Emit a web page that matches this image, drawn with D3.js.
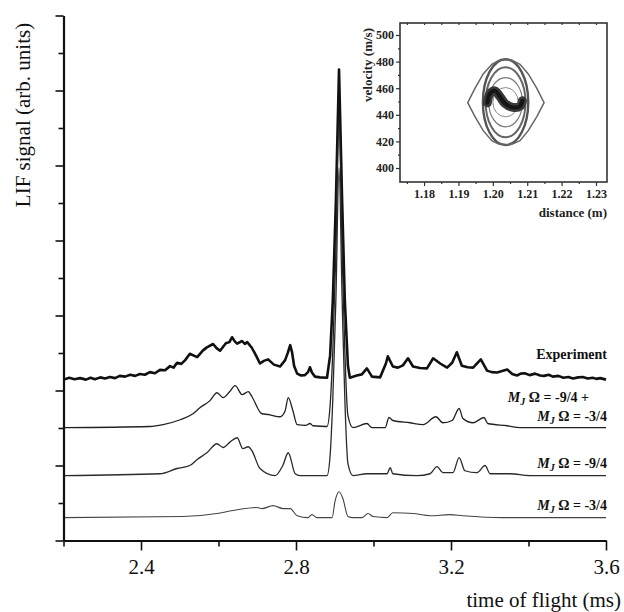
<!DOCTYPE html>
<html>
<head>
<meta charset="utf-8">
<script src="https://cdn.jsdelivr.net/npm/d3@7"></script>
<style>
  body { margin: 0; background: #fff; }
  svg { display: block; font-family: 'Liberation Serif', 'Times New Roman', serif; }
</style>
</head>
<body>
<svg></svg>
<script>
const size = {w: 624, h: 612};
const svg = d3.select('svg').attr('width', size.w).attr('height', size.h);

// time of flight axis ticks
const majorT = [2.4, 2.8, 3.2, 3.6];
const minorT = [2.2, 2.6, 3.0, 3.4];
const majorY = [0, 2, 4, 6, 8, 10, 12, 14];
const minorY = [1, 3, 5, 7, 9, 11, 13];

// vertical offset of each trace (arb. units)
const baselines = [4.29, 3.01, 1.73, 0.61];

// [time of flight (ms), LIF signal above own baseline]
const experiment = [
  [2.2, 0], [2.215, 0.05], [2.228, 0.01], [2.243, 0.04], [2.258, 0.0], [2.27, 0.05], [2.281, 0.01],
  [2.295, 0.06], [2.307, 0.03], [2.32, 0.07], [2.333, 0.04], [2.345, 0.1], [2.359, 0.08],
  [2.372, 0.13], [2.385, 0.1], [2.397, 0.15], [2.41, 0.13], [2.423, 0.2], [2.436, 0.17],
  [2.449, 0.26], [2.462, 0.25], [2.475, 0.36], [2.484, 0.32], [2.493, 0.45], [2.504, 0.42],
  [2.514, 0.52], [2.526, 0.69], [2.545, 0.6], [2.56, 0.78], [2.57, 0.86], [2.586, 0.95],
  [2.595, 0.84], [2.604, 0.77], [2.619, 0.97], [2.628, 1.0], [2.635, 1.13], [2.642, 1.02],
  [2.648, 0.96], [2.661, 1.03], [2.668, 0.95], [2.674, 1.0], [2.686, 0.85], [2.697, 0.64],
  [2.707, 0.43], [2.717, 0.5], [2.728, 0.54], [2.743, 0.4], [2.759, 0.35], [2.772, 0.52],
  [2.779, 0.72], [2.785, 0.92], [2.79, 0.72], [2.795, 0.37], [2.803, 0.16], [2.813, 0.11],
  [2.823, 0.12], [2.831, 0.2], [2.836, 0.33], [2.841, 0.19], [2.849, 0.08], [2.862, 0.06],
  [2.88, 0.05], [2.888, 0.64], [2.895, 2.11], [2.903, 4.77], [2.911, 8.27], [2.919, 4.77],
  [2.926, 2.11], [2.934, 0.37], [2.939, 0.05], [2.957, 0.11], [2.97, 0.14], [2.983, 0.3],
  [2.996, 0.08], [3.017, 0.06], [3.032, 0.43], [3.037, 0.62], [3.05, 0.35], [3.063, 0.32],
  [3.076, 0.38], [3.089, 0.57], [3.102, 0.35], [3.12, 0.31], [3.138, 0.3], [3.154, 0.57],
  [3.172, 0.43], [3.19, 0.32], [3.203, 0.45], [3.215, 0.73], [3.228, 0.37], [3.243, 0.33],
  [3.257, 0.32], [3.277, 0.54], [3.293, 0.24], [3.305, 0.2], [3.319, 0.19], [3.345, 0.27],
  [3.358, 0.15], [3.37, 0.11], [3.38, 0.16], [3.39, 0.17], [3.403, 0.12], [3.417, 0.16],
  [3.43, 0.11], [3.44, 0.1], [3.452, 0.13], [3.463, 0.08], [3.477, 0.1], [3.49, 0.05],
  [3.503, 0.07], [3.515, 0.03], [3.528, 0.06], [3.54, 0.07], [3.553, 0.03], [3.566, 0.05],
  [3.575, 0.02], [3.585, 0.04], [3.6, 0]
];
const sumPlusMinus = [
  [2.2, 0], [2.423, 0.03], [2.457, 0.08], [2.501, 0.21], [2.534, 0.37], [2.552, 0.53],
  [2.578, 0.72], [2.596, 0.93], [2.612, 0.8], [2.628, 0.95], [2.643, 1.12], [2.661, 0.88],
  [2.677, 0.96], [2.686, 0.83], [2.712, 0.37], [2.728, 0.35], [2.759, 0.29], [2.772, 0.45],
  [2.78, 0.8], [2.792, 0.45], [2.803, 0.08], [2.825, 0.06], [2.836, 0.11], [2.844, 0.05],
  [2.88, 0.03], [2.888, 0.59], [2.895, 2.05], [2.903, 4.72], [2.911, 8.27], [2.919, 4.72],
  [2.926, 2.05], [2.934, 0.32], [2.947, 0], [2.983, 0.11], [2.996, 0], [3.03, 0],
  [3.04, 0.27], [3.05, 0.19], [3.094, 0.13], [3.128, 0.08], [3.161, 0.29], [3.179, 0.13],
  [3.203, 0.19], [3.221, 0.51], [3.231, 0.24], [3.257, 0.13], [3.285, 0.27], [3.295, 0.11],
  [3.345, 0.05], [3.378, 0], [3.6, 0]
];
const minus94 = [
  [2.2, 0], [2.449, 0.05], [2.493, 0.19], [2.526, 0.27], [2.545, 0.43], [2.57, 0.61],
  [2.596, 0.85], [2.612, 0.75], [2.63, 0.9], [2.648, 1.01], [2.663, 0.72], [2.677, 0.77],
  [2.686, 0.67], [2.707, 0.19], [2.746, 0], [2.766, 0.27], [2.78, 0.61], [2.798, 0.05],
  [2.81, 0], [2.88, 0], [2.888, 0.53], [2.895, 2.05], [2.903, 4.72], [2.911, 8.21],
  [2.919, 4.72], [2.926, 2.05], [2.934, 0.32], [2.947, 0], [2.983, 0.05], [3.035, 0.05],
  [3.043, 0.21], [3.05, 0.05], [3.112, 0], [3.146, 0.05], [3.164, 0.24], [3.179, 0.08],
  [3.205, 0.08], [3.221, 0.48], [3.236, 0.13], [3.267, 0.08], [3.288, 0.27], [3.301, 0.05],
  [3.352, 0.05], [3.404, 0], [3.6, 0]
];
const minus34 = [
  [2.2, 0], [2.509, 0.03], [2.596, 0.11], [2.637, 0.19], [2.699, 0.27], [2.712, 0.24],
  [2.741, 0.32], [2.767, 0.24], [2.785, 0.24], [2.803, 0.05], [2.831, 0], [2.841, 0.08],
  [2.854, 0], [2.893, 0], [2.901, 0.45], [2.911, 0.69], [2.921, 0.51], [2.934, 0.03],
  [2.947, 0], [2.97, 0], [2.986, 0.11], [2.999, 0.03], [3.035, 0], [3.05, 0.13],
  [3.102, 0.11], [3.146, 0.05], [3.197, 0.08], [3.231, 0.05], [3.334, 0], [3.6, 0]
];
const traces = [experiment, sumPlusMinus, minus94, minus34];

// inset: phase space (distance m, velocity m/s)
const insetX = [1.18, 1.19, 1.20, 1.21, 1.22, 1.23];
const insetXMinor = [1.175, 1.185, 1.195, 1.205, 1.215, 1.225];
const insetY = [400, 420, 440, 460, 480, 500];
const insetYMinor = [410, 430, 450, 470, 490];
const separatrix = [
  [1.1927, 449.1], [1.1948, 459.9], [1.1972, 470.7], [1.1997, 478], [1.2017, 480.8],
  [1.2037, 481.5], [1.2057, 480.8], [1.2079, 478], [1.2103, 470.7], [1.2128, 459.9],
  [1.2149, 449.1], [1.2128, 438.6], [1.2103, 428.1], [1.2079, 420.5], [1.2057, 418],
  [1.2037, 417.3], [1.2017, 418], [1.1997, 420.5], [1.1972, 428.1], [1.1948, 438.6]
];
// nested orbits: [centre x, centre v, half width, half height]
const orbits = [
  [1.2037, 449.5, 0.0066, 32.2],
  [1.2037, 449.5, 0.0058, 26.3],
  [1.2037, 449.5, 0.0049, 18.5],
  [1.2037, 449.5, 0.0037, 11.0]
];
const trapped = [
  [1.1984, 449.0], [1.1991, 455.6], [1.2006, 458.0], [1.2021, 453.6],
  [1.2035, 448.6], [1.2058, 445.6], [1.2079, 446.4], [1.2086, 450.6]
];

// ---------- main plot ----------
const x = d3.scaleLinear().domain([2.2, 3.6]).range([63.5, 606]);
const y = d3.scaleLinear().domain([0, 14]).range([540.5, 15.5]);

const rough = d3.line().x(d => x(d[0])).y(d => y(d[1]));
const smooth = d3.line().x(d => x(d[0])).y(d => y(d[1])).curve(d3.curveMonotoneX);
const traceStyle = [
  {w: 2.6, c: '#111'},
  {w: 1.3, c: '#222'},
  {w: 1.3, c: '#2a2a2a'},
  {w: 1.1, c: '#444'}
];

svg.append('g').selectAll('path')
  .data(traces)
  .join('path')
  .attr('fill', 'none')
  .attr('stroke', (d, i) => traceStyle[i].c)
  .attr('stroke-width', (d, i) => traceStyle[i].w)
  .attr('stroke-linejoin', 'round')
  .attr('d', (d, i) => (i === 0 ? rough : smooth)(d.map(p => [p[0], p[1] + baselines[i]])));

function styleAxis(g, w) {
  g.select('.domain').attr('stroke', '#111').attr('stroke-width', w);
  g.selectAll('.tick line').attr('stroke', '#111').attr('stroke-width', 1.6);
}

svg.append('g')
  .attr('transform', `translate(${x.range()[0]},0)`)
  .call(d3.axisLeft(y).tickValues(majorY).tickSize(8).tickSizeOuter(0).tickFormat(''))
  .call(g => styleAxis(g, 2.2));
svg.append('g')
  .attr('transform', `translate(${x.range()[0]},0)`)
  .call(d3.axisLeft(y).tickValues(minorY).tickSize(5).tickSizeOuter(0).tickFormat(''))
  .call(g => g.select('.domain').remove())
  .call(g => styleAxis(g, 0));

svg.append('g')
  .attr('transform', `translate(0,${y(0)})`)
  .call(d3.axisBottom(x).tickValues(majorT).tickSize(10).tickSizeOuter(0).tickPadding(9).tickFormat(d3.format('.1f')))
  .call(g => styleAxis(g, 1.8))
  .call(g => g.selectAll('text').attr('font-size', 21).attr('fill', '#111')
    .attr('font-family', "'Liberation Serif', serif"));
svg.append('g')
  .attr('transform', `translate(0,${y(0)})`)
  .call(d3.axisBottom(x).tickValues(minorT).tickSize(6).tickSizeOuter(0).tickFormat(''))
  .call(g => g.select('.domain').remove())
  .call(g => styleAxis(g, 0));

svg.append('text')
  .attr('transform', 'translate(30,115) rotate(-90)')
  .attr('text-anchor', 'middle')
  .attr('font-size', 21)
  .attr('fill', '#111')
  .text('LIF signal (arb. units)');

svg.append('text')
  .attr('x', 621).attr('y', 607)
  .attr('text-anchor', 'end')
  .attr('font-size', 21)
  .attr('fill', '#111')
  .text('time of flight (ms)');

// trace labels
const labels = svg.append('g')
  .attr('font-size', 14)
  .attr('font-weight', 'bold')
  .attr('fill', '#111');

labels.append('text').attr('x', 607).attr('y', 359).attr('text-anchor', 'end').text('Experiment');

function mjLabel(xr, yb, tail) {
  const t = labels.append('text').attr('x', xr).attr('y', yb).attr('text-anchor', 'end');
  t.append('tspan').attr('font-style', 'italic').text('M');
  t.append('tspan').attr('font-style', 'italic').attr('font-size', 10).attr('dy', 3).text('J');
  t.append('tspan').attr('dy', -3).text(' Ω ' + tail);
}
mjLabel(589, 402, '= -9/4 +');
mjLabel(607, 421, '= -3/4');
mjLabel(607, 468, '= -9/4');
mjLabel(607, 510, '= -3/4');

// ---------- inset ----------
const ix = d3.scaleLinear().domain([1.173, 1.2332]).range([400, 607]);
const iy = d3.scaleLinear().domain([389.5, 509]).range([182, 23]);
const inset = svg.append('g');

inset.append('rect')
  .attr('x', ix.range()[0]).attr('y', iy.range()[1])
  .attr('width', ix.range()[1] - ix.range()[0])
  .attr('height', iy.range()[0] - iy.range()[1])
  .attr('fill', '#fff')
  .attr('stroke', '#333')
  .attr('stroke-width', 1.6);

const orbitStyle = [
  {w: 2.4, c: '#555'},
  {w: 2.0, c: '#666'},
  {w: 1.2, c: '#777'},
  {w: 1.0, c: '#888'}
];
inset.selectAll('ellipse')
  .data(orbits)
  .join('ellipse')
  .attr('cx', d => ix(d[0]))
  .attr('cy', d => iy(d[1]))
  .attr('rx', d => ix(d[0] + d[2]) - ix(d[0]))
  .attr('ry', d => iy(d[1]) - iy(d[1] + d[3]))
  .attr('fill', 'none')
  .attr('stroke', (d, i) => orbitStyle[i].c)
  .attr('stroke-width', (d, i) => orbitStyle[i].w);

inset.append('path')
  .attr('d', d3.line().x(d => ix(d[0])).y(d => iy(d[1])).curve(d3.curveLinearClosed)(separatrix))
  .attr('fill', 'none')
  .attr('stroke', '#666')
  .attr('stroke-width', 1.5);

const blob = d3.line().x(d => ix(d[0])).y(d => iy(d[1])).curve(d3.curveCatmullRom);
inset.append('path')
  .attr('d', blob(trapped))
  .attr('fill', 'none')
  .attr('stroke', '#3a3a3a')
  .attr('stroke-width', 9)
  .attr('stroke-linecap', 'round')
  .attr('stroke-linejoin', 'round');
inset.append('path')
  .attr('d', blob(trapped))
  .attr('fill', 'none')
  .attr('stroke', '#151515')
  .attr('stroke-width', 4)
  .attr('stroke-linecap', 'round');

function insetAxis(g) {
  g.select('.domain').remove();
  g.selectAll('.tick line').attr('stroke', '#333').attr('stroke-width', 1.2);
  g.selectAll('text').attr('font-size', 12).attr('font-weight', 'bold').attr('fill', '#222')
    .attr('font-family', "'Liberation Serif', serif");
}
inset.append('g')
  .attr('transform', `translate(0,${iy.range()[0]})`)
  .call(d3.axisBottom(ix).tickValues(insetX).tickSize(4).tickPadding(3).tickFormat(d3.format('.2f')))
  .call(insetAxis);
inset.append('g')
  .attr('transform', `translate(0,${iy.range()[0]})`)
  .call(d3.axisBottom(ix).tickValues(insetXMinor).tickSize(2).tickFormat(''))
  .call(insetAxis);
inset.append('g')
  .attr('transform', `translate(${ix.range()[0]},0)`)
  .call(d3.axisLeft(iy).tickValues(insetY).tickSize(4).tickPadding(2).tickFormat(d3.format('d')))
  .call(insetAxis);
inset.append('g')
  .attr('transform', `translate(${ix.range()[0]},0)`)
  .call(d3.axisLeft(iy).tickValues(insetYMinor).tickSize(2).tickFormat(''))
  .call(insetAxis);
// small inner ticks on the top edge
inset.append('g')
  .attr('transform', `translate(0,${iy.range()[1]})`)
  .call(d3.axisBottom(ix).tickValues(insetX.concat(insetXMinor)).tickSize(2).tickFormat(''))
  .call(insetAxis);

inset.append('text')
  .attr('x', 607).attr('y', 217)
  .attr('text-anchor', 'end')
  .attr('font-size', 13).attr('font-weight', 'bold').attr('fill', '#222')
  .text('distance (m)');
inset.append('text')
  .attr('transform', 'translate(372,65) rotate(-90)')
  .attr('text-anchor', 'middle')
  .attr('font-size', 13).attr('font-weight', 'bold').attr('fill', '#222')
  .text('velocity (m/s)');
</script>
</body>
</html>
